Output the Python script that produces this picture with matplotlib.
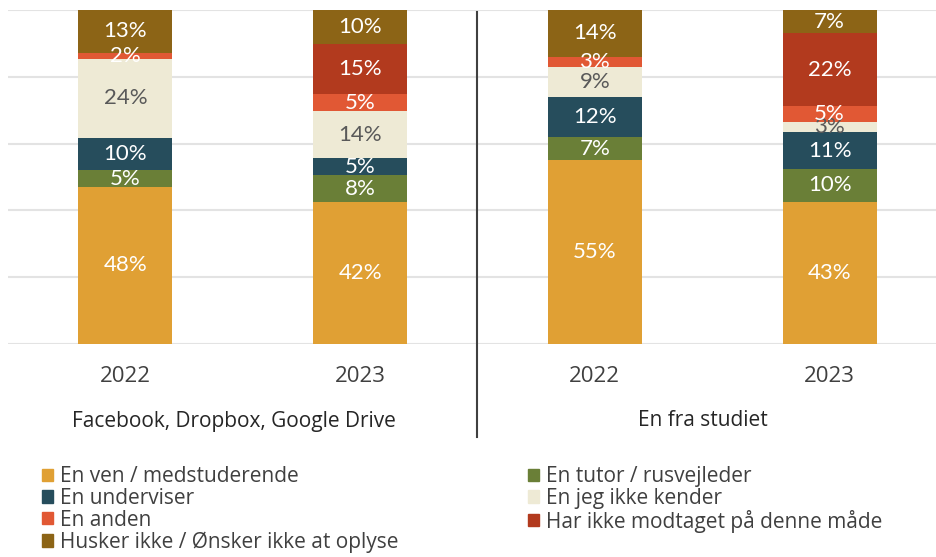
import matplotlib.pyplot as plt
import matplotlib.patches as mpatches
import matplotlib.transforms as mtransforms
import numpy as np

plt.rcParams['font.family'] = ['Open Sans', 'DejaVu Sans']

# data (shown percentages, stacked bottom -> top)
years = ['2022', '2023', '2022', '2023']
groups = ['Facebook, Dropbox, Google Drive', 'En fra studiet']
categories = ['En ven / medstuderende', 'En tutor / rusvejleder', 'En underviser',
              'En jeg ikke kender', 'En anden', 'Har ikke modtaget på denne måde',
              'Husker ikke / Ønsker ikke at oplyse']
ven = [48, 42, 55, 43]
tutor = [5, 8, 7, 10]
underviser = [10, 5, 12, 11]
ukendt = [24, 14, 9, 3]
anden = [2, 5, 3, 5]
ikke_modtaget = [0, 15, 0, 22]
husker_ikke = [13, 10, 14, 7]

colors = ['#E0A034', '#6A7F37', '#264D5C', '#EEEAD5', '#E15834', '#B23A1E', '#8C6416']
label_colors = ['white', 'white', 'white', '#595959', 'white', 'white', 'white']

series = np.array([ven, tutor, underviser, ukendt, anden, ikke_modtaget, husker_ikke], dtype=float)
shares = series / series.sum(axis=0) * 100  # 100% stacked

fig = plt.figure(figsize=(9.37, 5.57), dpi=100)
ax = fig.add_axes([8 / 937, 1 - 344 / 557, 939 / 937, 334 / 557])

x = np.arange(len(years))
bottom = np.zeros(len(years))
for i, cat in enumerate(categories):
    ax.bar(x, shares[i], 0.4, bottom=bottom, color=colors[i], zorder=3, label=cat)
    for j in range(len(years)):
        if series[i, j] > 0:
            ax.text(x[j], bottom[j] + shares[i, j] / 2, f'{series[i, j]:.0f}%',
                    ha='center', va='center', fontsize=16, color=label_colors[i],
                    family=['Lato', 'DejaVu Sans'], zorder=4)
    bottom += shares[i]

ax.set_ylim(0, 100)
ax.set_xlim(-0.5, 3.5)
ax.set_yticks(np.arange(0, 101, 20))
ax.yaxis.grid(True, color='#E3E3E3', linewidth=1.5, zorder=0)
ax.tick_params(left=False, labelleft=False, bottom=False, labelbottom=False)
for s in ax.spines.values():
    s.set_visible(False)

# year labels under bars
trans = mtransforms.blended_transform_factory(ax.transData, ax.transAxes)
for j, yr in enumerate(years):
    ax.text(x[j], -0.097, yr, transform=trans, ha='center', va='center',
            fontsize=16, color='#404040')

# divider between the two groups
ax.plot([1.5, 1.5], [0.994, -0.278], transform=trans, color='#404040',
        linewidth=1.5, clip_on=False, zorder=5)

# group labels
fig.text(0.25, 1 - 421 / 557, groups[0], ha='center', va='center', fontsize=15, color='#262626')
fig.text(0.75, 1 - 421 / 557, groups[1], ha='center', va='center', fontsize=15, color='#262626')

# legend in two columns
handles = [mpatches.Patch(color=c) for c in colors]
order1 = [0, 2, 4, 6]
order2 = [1, 3, 5]
leg_kw = dict(frameon=False, fontsize=15, handlelength=0.52, handleheight=0.52,
              handletextpad=0.33, labelspacing=0.04, borderpad=0, borderaxespad=0,
              labelcolor='#404040')
fig.legend([handles[i] for i in order1], [categories[i] for i in order1],
           loc='upper left', bbox_to_anchor=(42 / 937, 1 - 466 / 557), **leg_kw)
fig.legend([handles[i] for i in order2], [categories[i] for i in order2],
           loc='upper left', bbox_to_anchor=(528 / 937, 1 - 466 / 557), **leg_kw)

fig.savefig('out.png', dpi=100)
